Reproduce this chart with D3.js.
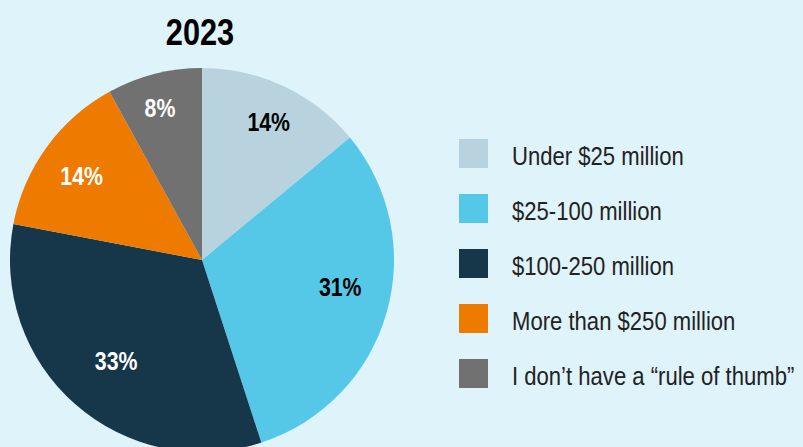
<!DOCTYPE html>
<html><head><meta charset="utf-8">
<script src="https://cdn.jsdelivr.net/npm/d3@7"></script>
<style>
html,body{margin:0;padding:0;background:#dff3fa;}
svg{display:block;}
</style></head>
<body>
<svg id="chart" width="803" height="447"></svg>
<script>
const title = "2023";
const categories = ["Under $25 million","$25-100 million","$100-250 million","More than $250 million","I don\u2019t have a \u201crule of thumb\u201d"];
const values = [14, 31, 33, 14, 8];
const colors = ["#b9d3de","#55c8e8","#16364a","#ee7a00","#717171"];
const labelColors = ["#000","#000","#fff","#fff","#fff"];
// small manual nudges of the percentage labels (pixels) from the slice centroid
const labelNudge = [[5,-7],[-1,-14],[10,-8],[-3,1],[-6,-12]];

const W = 803, H = 447;
const svg = d3.select("#chart");
svg.append("rect").attr("width",W).attr("height",H).attr("fill","#dff3fa");
const FONT = "'Liberation Sans','Arial',sans-serif";
const SX = 0.82; // horizontal condensing

const cx = 202, cy = 260, R = 192;
const pie = d3.pie().sort(null).value(d=>d)(values);
const arc = d3.arc().innerRadius(0).outerRadius(R);
const labelArc = d3.arc().innerRadius(145).outerRadius(145);
const g = svg.append("g").attr("transform",`translate(${cx},${cy})`);
g.selectAll("path").data(pie).join("path")
  .attr("d",arc).attr("fill",(d,i)=>colors[i]);
g.selectAll("text").data(pie).join("text")
  .attr("transform",(d,i)=>{const c=labelArc.centroid(d);return `translate(${c[0]+labelNudge[i][0]},${c[1]+labelNudge[i][1]}) scale(${SX},1)`;})
  .attr("text-anchor","middle").attr("dominant-baseline","central")
  .attr("font-family",FONT).attr("font-weight","bold").attr("font-size",26)
  .attr("fill",(d,i)=>labelColors[i])
  .text(d=>d.data+"%");

svg.append("text").attr("transform",`translate(200,45) scale(${SX},1)`).attr("text-anchor","middle")
  .attr("font-family",FONT).attr("font-weight","bold").attr("font-size",37.5)
  .attr("fill","#000").text(title);

const y = d3.scalePoint().domain(categories).range([153.5,373.5]);
const leg = svg.append("g");
categories.forEach((c,i)=>{
  leg.append("rect").attr("x",459).attr("y",y(c)-14.5).attr("width",29).attr("height",29).attr("fill",colors[i]);
  leg.append("text").attr("transform",`translate(512,${y(c)+2.5}) scale(0.85,1)`).attr("dominant-baseline","central")
    .attr("font-family",FONT).attr("font-size",26).attr("fill","#222").text(c);
});
</script>
</body></html>
